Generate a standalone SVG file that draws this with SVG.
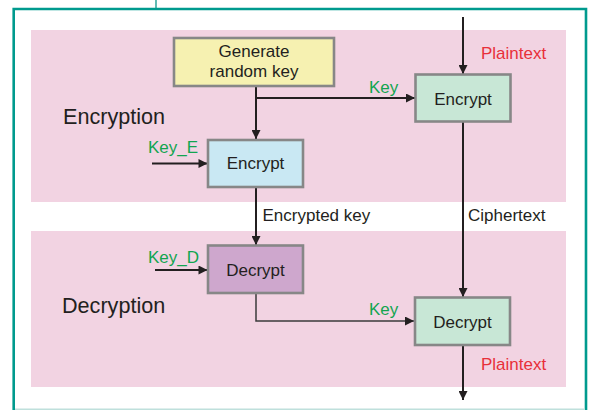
<svg xmlns="http://www.w3.org/2000/svg" width="592" height="410" viewBox="0 0 592 410">
<defs>
<style>
.t{font-family:"Liberation Sans",Arial,sans-serif;font-size:17px;fill:#231f20}
.title{font-family:"Liberation Sans",Arial,sans-serif;font-size:21.6px;fill:#231f20}
.g{font-family:"Liberation Sans",Arial,sans-serif;font-size:17px;fill:#12a550}
.r{font-family:"Liberation Sans",Arial,sans-serif;font-size:17px;fill:#e8303a}
.box{stroke:#878787;stroke-width:2.6}
.ln{fill:none;stroke:#231f20;stroke-width:2}
</style>
<marker id="ah" viewBox="0 0 10 10" refX="10" refY="5" markerWidth="10" markerHeight="9" markerUnits="userSpaceOnUse" orient="auto">
<path d="M0,0 L10,5 L0,10 z" fill="#231f20"/>
</marker>
</defs>
<rect width="592" height="410" fill="#fff"/>
<g id="frame">
<line x1="156" y1="0" x2="156" y2="9" stroke="#3aaaa2" stroke-width="1.6"/>
<path d="M13.7,410 V9 H586 V410" fill="none" stroke="#009a8e" stroke-width="2.6"/>
<line x1="15" y1="409.3" x2="585" y2="409.3" stroke="#bfe0dc" stroke-width="1.4"/>
</g>
<g id="bands">
<rect x="31" y="30" width="535" height="172" fill="#f2d3e2"/>
<rect x="31" y="231" width="535" height="156" fill="#f2d3e2"/>
<text class="title" x="63" y="124">Encryption</text>
<text class="title" x="62" y="313">Decryption</text>
</g>
<g id="connectors">
<line class="ln" x1="463" y1="17" x2="463" y2="74" marker-end="url(#ah)"/>
<line class="ln" x1="256" y1="86" x2="256" y2="139" marker-end="url(#ah)"/>
<line class="ln" x1="256" y1="98" x2="415" y2="98" marker-end="url(#ah)"/>
<line class="ln" x1="152" y1="163.5" x2="207.5" y2="163.5" marker-end="url(#ah)"/>
<line class="ln" x1="256" y1="188" x2="256" y2="245" marker-end="url(#ah)"/>
<line class="ln" x1="155" y1="270" x2="207.5" y2="270" marker-end="url(#ah)"/>
<path d="M256,294 V321 H414" fill="none" stroke="#3b3b3b" stroke-width="1.5" marker-end="url(#ah)"/>
<line class="ln" x1="463" y1="122" x2="463" y2="297" marker-end="url(#ah)"/>
<line class="ln" x1="463" y1="345" x2="463" y2="400" marker-end="url(#ah)"/>
<text class="g" x="369" y="92.5">Key</text>
<text class="g" x="369" y="315">Key</text>
<text class="g" x="148" y="153">Key_E</text>
<text class="g" x="148" y="263">Key_D</text>
<text class="t" x="262.5" y="221">Encrypted key</text>
<text class="t" x="468" y="221">Ciphertext</text>
<text class="r" x="481" y="58.5">Plaintext</text>
<text class="r" x="481" y="370">Plaintext</text>
</g>
<g id="gen">
<rect class="box" x="174" y="38" width="160" height="48" fill="#f6f1b1"/>
<text class="t" x="254" y="57" text-anchor="middle">Generate</text>
<text class="t" x="254" y="77" text-anchor="middle">random key</text>
</g>
<g id="enc1">
<rect class="box" x="208" y="140" width="95" height="47" fill="#c9e8f3"/>
<text class="t" x="255.5" y="169" text-anchor="middle">Encrypt</text>
</g>
<g id="enc2">
<rect class="box" x="415.5" y="74.5" width="95" height="47" fill="#c8e7d6"/>
<text class="t" x="463" y="105" text-anchor="middle">Encrypt</text>
</g>
<g id="dec1">
<rect class="box" x="208" y="245.5" width="95" height="47.5" fill="#cea7cd"/>
<text class="t" x="255.5" y="276" text-anchor="middle">Decrypt</text>
</g>
<g id="dec2">
<rect class="box" x="415" y="297.5" width="95" height="47.5" fill="#c8e7d6"/>
<text class="t" x="462.5" y="327.5" text-anchor="middle">Decrypt</text>
</g>
</svg>
